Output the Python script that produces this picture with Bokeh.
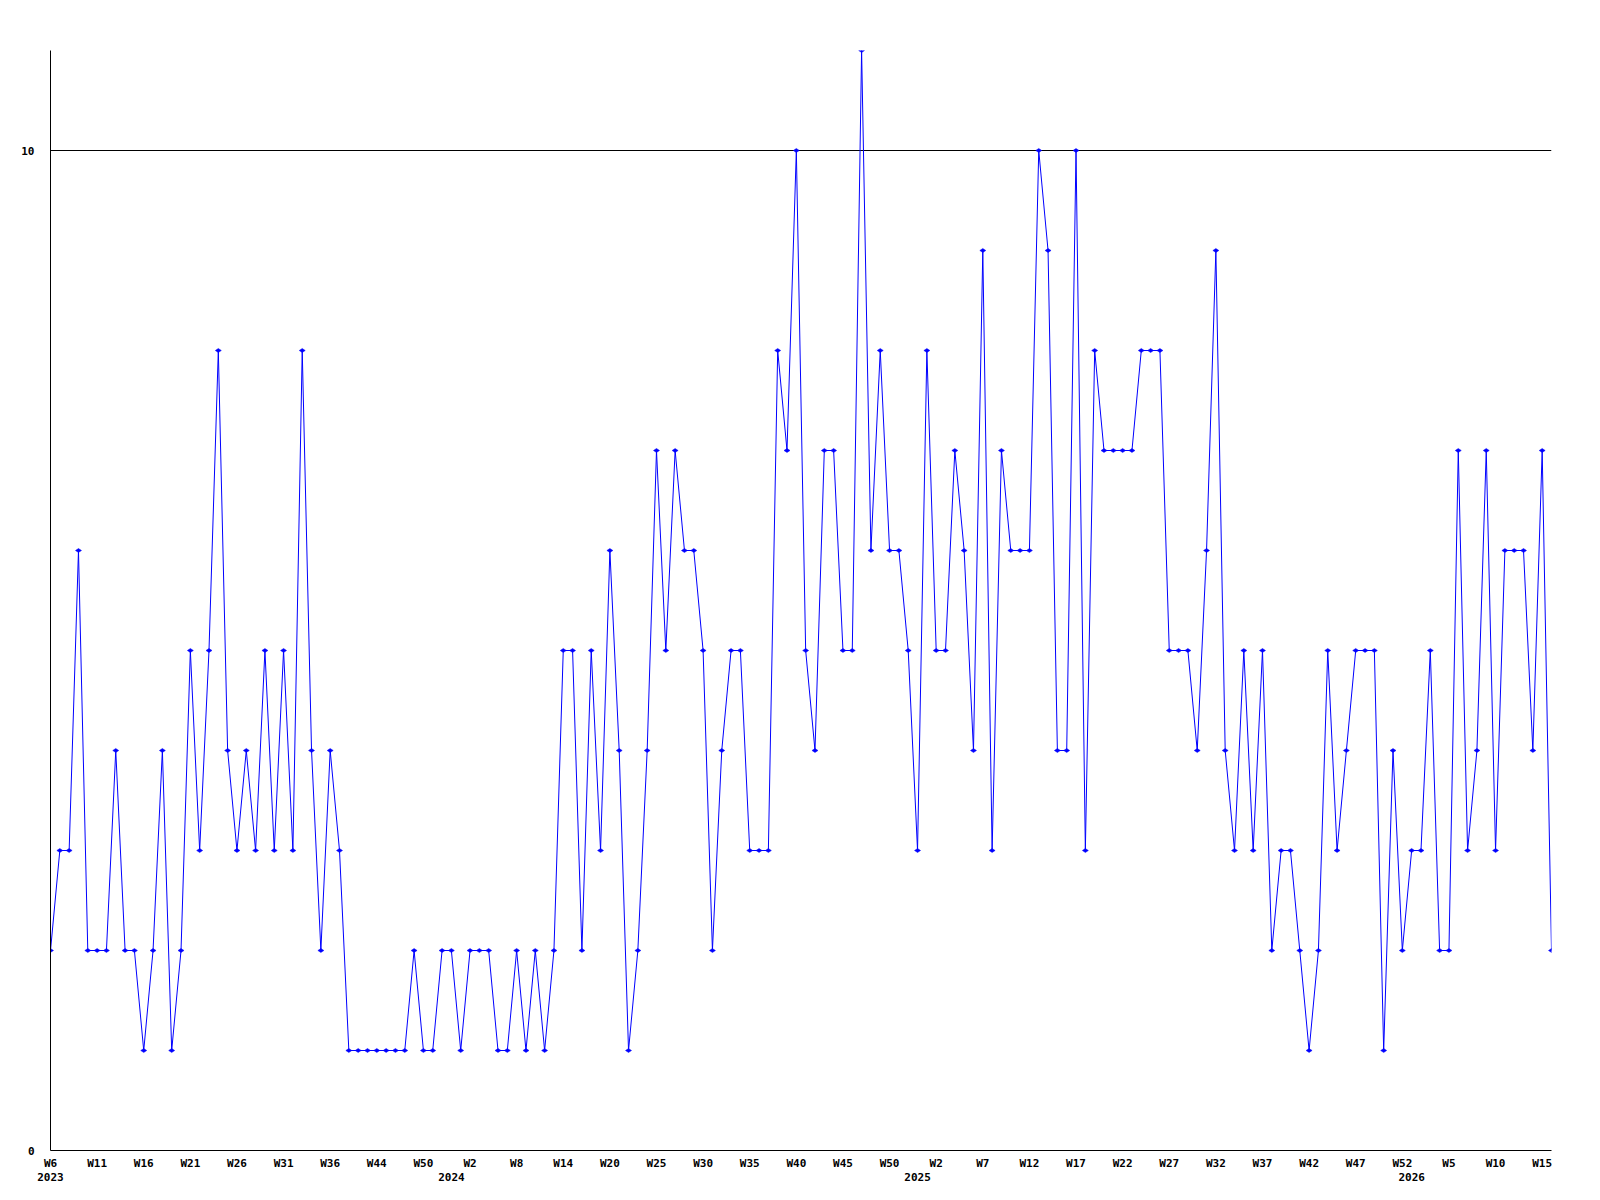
from bokeh.plotting import figure
from bokeh.models import FixedTicker, LinearAxis, Range1d, ColumnDataSource
from bokeh.embed import file_html
from bokeh.resources import INLINE

# ---- data ----
values = [
    2, 3, 3, 6, 2, 2, 2, 4, 2, 2, 1, 2, 4, 1, 2, 5, 3, 5, 8, 4,
    3, 4, 3, 5, 3, 5, 3, 8, 4, 2, 4, 3, 1, 1, 1, 1, 1, 1, 1, 2,
    1, 1, 2, 2, 1, 2, 2, 2, 1, 1, 2, 1, 2, 1, 2, 5, 5, 2, 5, 3,
    6, 4, 1, 2, 4, 7, 5, 7, 6, 6, 5, 2, 4, 5, 5, 3, 3, 3, 8, 7,
    10, 5, 4, 7, 7, 5, 5, 11, 6, 8, 6, 6, 5, 3, 8, 5, 5, 7, 6, 4,
    9, 3, 7, 6, 6, 6, 10, 9, 4, 4, 10, 3, 8, 7, 7, 7, 7, 8, 8, 8,
    5, 5, 5, 4, 6, 9, 4, 3, 5, 3, 5, 2, 3, 3, 2, 1, 2, 5, 3, 4,
    5, 5, 5, 1, 4, 2, 3, 3, 5, 2, 2, 7, 3, 4, 7, 3, 6, 6, 6, 4,
    7, 2,
]
week_labels = [
    "W6", "W11", "W16", "W21", "W26", "W31", "W36", "W44", "W50",
    "W2", "W8", "W14", "W20", "W25", "W30", "W35", "W40", "W45", "W50",
    "W2", "W7", "W12", "W17", "W22", "W27", "W32", "W37", "W42", "W47", "W52",
    "W5", "W10", "W15",
]
label_every = 5
years = ["2023", "2024", "2025", "2026"]
year_start_index = [0, 43, 93, 146]
y_ticks = [0, 10]

FONT = "DejaVu Sans Mono"
FSIZE = "11px"

x = list(range(len(values)))
src = ColumnDataSource(data=dict(x=x, y=values))

p = figure(
    frame_width=1501, frame_height=1100,
    min_border_left=50, min_border_top=50, min_border_right=30, min_border_bottom=40,
    x_range=Range1d(0, len(values) - 1), y_range=Range1d(0, 11),
    output_backend="svg", toolbar_location=None,
    background_fill_color="white", border_fill_color="white",
)
p.outline_line_color = None

p.line("x", "y", source=src, line_color="#0000ff", line_width=1)
p.scatter("x", "y", source=src, marker="diamond", size=6, angle=1.5708,
          fill_color="#0000ff", line_color="#0000ff", line_width=0.5)

# grid
p.xgrid.visible = False
p.ygrid.ticker = FixedTicker(ticks=y_ticks)
p.ygrid.grid_line_color = "black"
p.ygrid.grid_line_width = 1

# y axis
ya = p.yaxis[0]
ya.ticker = FixedTicker(ticks=y_ticks, minor_ticks=[])
ya.major_tick_line_color = None
ya.minor_tick_line_color = None
ya.axis_line_color = "black"
ya.major_label_text_font = FONT
ya.major_label_text_font_size = FSIZE
ya.major_label_text_font_style = "bold"
ya.major_label_text_color = "black"
ya.major_label_standoff = 10

# x axis with week labels
tick_pos = list(range(0, len(values), label_every))[:len(week_labels)]
xa = p.xaxis[0]
xa.ticker = FixedTicker(ticks=tick_pos, minor_ticks=[])
xa.major_label_overrides = {t: lab for t, lab in zip(tick_pos, week_labels)}
xa.major_tick_line_color = None
xa.minor_tick_line_color = None
xa.axis_line_color = "black"
xa.major_label_text_font = FONT
xa.major_label_text_font_size = FSIZE
xa.major_label_text_font_style = "bold"
xa.major_label_text_color = "black"
xa.major_label_standoff = 0

# second x axis with years
ya2 = LinearAxis(
    ticker=FixedTicker(ticks=year_start_index, minor_ticks=[]),
    major_label_overrides={t: y for t, y in zip(year_start_index, years)},
    axis_line_color=None, major_tick_line_color=None, minor_tick_line_color=None,
    major_label_text_font=FONT, major_label_text_font_size=FSIZE,
    major_label_text_font_style="bold", major_label_text_color="black",
    major_label_standoff=-6,
)
p.add_layout(ya2, "below")

open("out.html", "w").write(file_html(p, INLINE))
